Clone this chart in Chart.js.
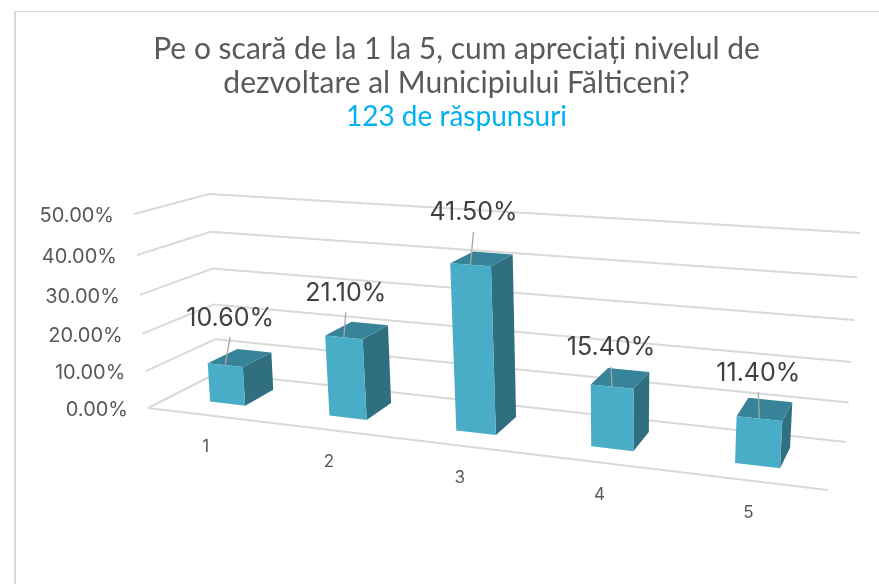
<!DOCTYPE html>
<html>
<head>
<meta charset="utf-8">
<title>Nivel de dezvoltare</title>
<script src="https://cdn.jsdelivr.net/npm/chart.js@4"></script>
<style>
  html, body { margin: 0; padding: 0; background: #fff; }
  #frame { position: absolute; left: 14px; top: 11px; right: 0; bottom: 0; border-left: 2px solid #d9d9d9; border-top: 1px solid #d9d9d9; }
  #chart3d { position: absolute; left: 0; top: 0; }
</style>
</head>
<body>
<div id="frame"></div>
<canvas id="chart3d" width="879" height="584"></canvas>
<script>
const categories = ['1', '2', '3', '4', '5'];
const percentValues = [10.6, 21.1, 41.5, 15.4, 11.4];
const yTickValues = [0, 10, 20, 30, 40, 50];
const titleLines = ['Pe o scară de la 1 la 5, cum apreciați nivelul de', 'dezvoltare al Municipiului Fălticeni?'];
const subtitleText = '123 de răspunsuri';

// where the corners of the 3D box land on the canvas
const floorCorners = { fl: [148, 408], fr: [828, 490], br: [846, 442], bl: [217, 373] };
const topCorners = { fl: [134, 214], fr: [843, 262], br: [860, 233], bl: [209, 194] };
const barDepthFront = 0.3;
const barDepthBack = 0.74;
// Excel style hand placed data labels, relative to the top front edge of each bar
const labelShift = [[5, -47], [2, -44], [3, -52], [-1, -39], [-1, -45]];

function quadMap(c) {
    const [x0, y0] = c.fl, [x1, y1] = c.fr, [x2, y2] = c.br, [x3, y3] = c.bl;
    const dx1 = x1 - x2, dx2 = x3 - x2, sx = x0 - x1 + x2 - x3;
    const dy1 = y1 - y2, dy2 = y3 - y2, sy = y0 - y1 + y2 - y3;
    const det = dx1 * dy2 - dx2 * dy1;
    const g = (sx * dy2 - dx2 * sy) / det;
    const h = (dx1 * sy - sx * dy1) / det;
    const a = x1 - x0 + g * x1, b = x3 - x0 + h * x3;
    const d = y1 - y0 + g * y1, e = y3 - y0 + h * y3;
    return (u, v) => {
        const w = g * u + h * v + 1;
        return [(a * u + b * v + x0) / w, (d * u + e * v + y0) / w];
    };
}

const floorMap = quadMap(floorCorners);
const topMap = quadMap(topCorners);

// u: along the categories, v: depth, h: height, all 0..1
function project(u, v, h) {
    const p = floorMap(u, v), q = topMap(u, v);
    const s = h * (0.93 + 0.07 * h);
    return [p[0] + (q[0] - p[0]) * s, p[1] + (q[1] - p[1]) * s];
}

function poly(ctx, pts, color) {
    ctx.beginPath();
    pts.forEach((p, i) => i ? ctx.lineTo(p[0], p[1]) : ctx.moveTo(p[0], p[1]));
    ctx.closePath();
    ctx.fillStyle = color;
    ctx.fill();
}

function line(ctx, a, b, color, width) {
    ctx.beginPath();
    ctx.moveTo(a[0], a[1]);
    ctx.lineTo(b[0], b[1]);
    ctx.strokeStyle = color;
    ctx.lineWidth = width;
    ctx.stroke();
}

const box3d = {
    id: 'box3d',
    beforeDatasetsDraw(chart) {
        const ctx = chart.ctx, y = chart.scales.y, x = chart.scales.x, area = chart.chartArea;
        ctx.save();
        y.ticks.forEach(t => {
            const h = (area.bottom - y.getPixelForValue(t.value)) / area.height;
            line(ctx, project(0, 0, h), project(0, 1, h), '#d9d9d9', 2);
            line(ctx, project(0, 1, h), project(1, 1, h), '#d9d9d9', 2);
            const p = project(0, 0, h);
            ctx.font = '20px Inter';
            ctx.fillStyle = '#595959';
            ctx.textAlign = 'right';
            ctx.textBaseline = 'middle';
            ctx.fillText(t.label, p[0] - 20, p[1] + 2);
        });
        line(ctx, project(0, 0, 0), project(1, 0, 0), '#d9d9d9', 2);
        categories.forEach((c, i) => {
            const u = (x.getPixelForValue(i) - area.left) / area.width;
            const p = project(u, 0, 0);
            ctx.font = '17px Inter';
            ctx.fillStyle = '#595959';
            ctx.textAlign = 'center';
            ctx.textBaseline = 'middle';
            ctx.fillText(c, p[0] - 1, p[1] + 32);
        });
        ctx.restore();
    },
    // the flat bars are replaced by extruded ones
    beforeDatasetDraw(chart, args) {
        const ctx = chart.ctx, area = chart.chartArea;
        const ds = chart.data.datasets[args.index];
        ctx.save();
        args.meta.data.forEach((bar, i) => {
            const u0 = (bar.x - bar.width / 2 - area.left) / area.width;
            const u1 = (bar.x + bar.width / 2 - area.left) / area.width;
            const h = (bar.base - bar.y) / area.height;
            const v0 = barDepthFront, v1 = barDepthBack;
            poly(ctx, [project(u1, v0, 0), project(u1, v1, 0), project(u1, v1, h), project(u1, v0, h)], ds.sideColor);
            poly(ctx, [project(u0, v0, h), project(u1, v0, h), project(u1, v1, h), project(u0, v1, h)], ds.topColor);
            poly(ctx, [project(u0, v0, 0), project(u1, v0, 0), project(u1, v0, h), project(u0, v0, h)], ds.backgroundColor);

            const a = project((u0 + u1) / 2, v0, h);
            const lx = a[0] + labelShift[i][0], ly = a[1] + labelShift[i][1];
            line(ctx, a, [lx, ly + 19], '#a6a6a6', 1.3);
            ctx.font = '25px Inter';
            ctx.fillStyle = '#404040';
            ctx.textAlign = 'center';
            ctx.textBaseline = 'middle';
            ctx.fillText(ds.data[i].toFixed(2) + '%', lx, ly);
        });
        ctx.restore();
        return false;
    }
};

new Chart(document.getElementById('chart3d'), {
    type: 'bar',
    data: {
        labels: categories,
        datasets: [{
            data: percentValues,
            backgroundColor: '#4aadc8',
            topColor: '#37839a',
            sideColor: '#306f80',
            categoryPercentage: 1,
            barPercentage: 0.3
        }]
    },
    plugins: [box3d],
    options: {
        responsive: false,
        animation: false,
        layout: { padding: { top: 10, left: 40, right: 6, bottom: 20 } },
        scales: {
            x: { display: false },
            y: {
                display: false,
                min: 0,
                max: 50,
                afterBuildTicks(scale) { scale.ticks = yTickValues.map(v => ({ value: v })); },
                ticks: { callback: v => v.toFixed(2) + '%' }
            }
        },
        plugins: {
            legend: { display: false },
            tooltip: { enabled: false },
            title: {
                display: true,
                text: titleLines,
                color: '#595959',
                font: { family: 'Lato', size: 30, weight: 'normal', lineHeight: 1.12 },
                padding: { top: 23, bottom: 0 }
            },
            subtitle: {
                display: true,
                text: subtitleText,
                color: '#00b0f0',
                font: { family: 'Lato', size: 28, weight: 'normal' },
                padding: { top: 0, bottom: 10 }
            }
        }
    }
});
</script>
</body>
</html>
